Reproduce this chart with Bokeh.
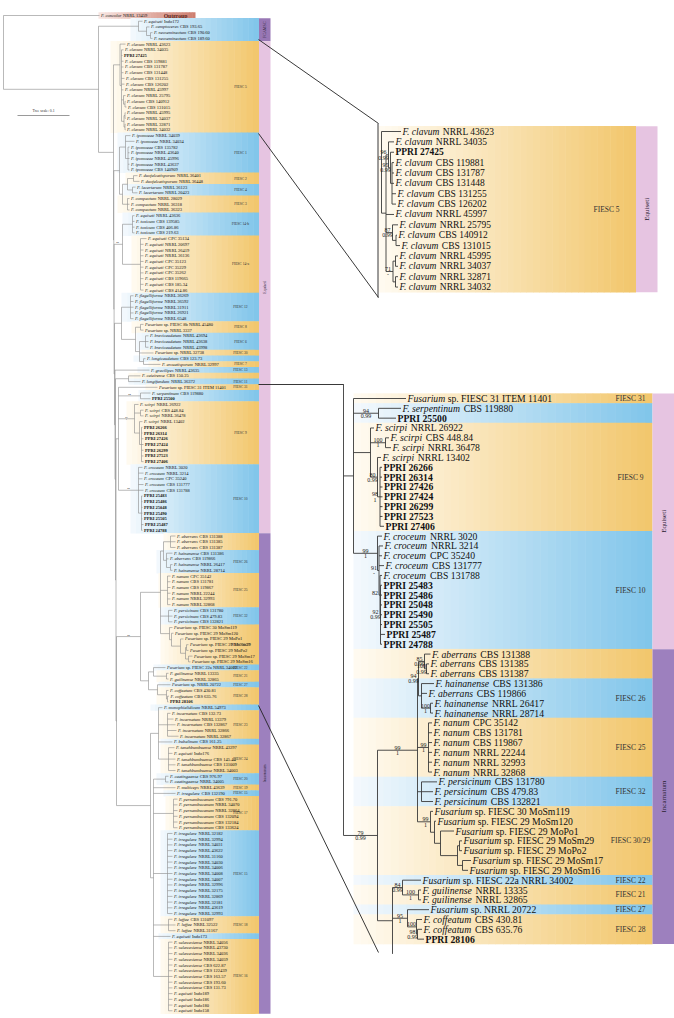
import math
from bokeh.plotting import figure
from bokeh.models import Range1d
from bokeh.core.properties import value
from bokeh.embed import file_html
from bokeh.resources import INLINE

FONT = "Liberation Serif"

# ------------------------------------------------------------------ data
TAXA = [
    "F. concolor NRRL 13459",
    "F. equiseti Indo172", "F. camptoceras CBS 193.65", "F. neoseminectum CBS 190.60", "F. neoseminectum CBS 189.60",
    "F. clavum NRRL 43623", "F. clavum NRRL 34035", "PPRI 27425", "F. clavum CBS 119881", "F. clavum CBS 131787",
    "F. clavum CBS 131448", "F. clavum CBS 131255", "F. clavum CBS 126202", "F. clavum NRRL 45997", "F. clavum NRRL 25795",
    "F. clavum CBS 140912", "F. clavum CBS 131015", "F. clavum NRRL 45995", "F. clavum NRRL 34037", "F. clavum NRRL 32871",
    "F. clavum NRRL 34032",
    "F. ipomoeae NRRL 34039", "F. ipomoeae NRRL 34034", "F. ipomoeae CBS 135782", "F. ipomoeae NRRL 43640",
    "F. ipomoeae NRRL 45996", "F. ipomoeae NRRL 43637", "F. ipomoeae CBS 140909",
    "F. duofalcatisporum NRRL 36401", "F. duofalcatisporum NRRL 36448",
    "F. lacertarum NRRL 36123", "F. lacertarum NRRL 20423",
    "F. compactum NRRL 28029", "F. compactum NRRL 36318", "F. compactum NRRL 36323",
    "F. equiseti NRRL 43636", "F. toxicum CBS 139585", "F. toxicum CBS 406.86", "F. toxicum CBS 219.63",
    "F. equiseti CPC 35134", "F. equiseti NRRL 20697", "F. equiseti NRRL 26419", "F. equiseti NRRL 36136",
    "F. equiseti CPC 35123", "F. equiseti CPC 35229", "F. equiseti CPC 35262", "F. equiseti CBS 119665",
    "F. equiseti CBS 185.34", "F. equiseti CBS 414.86",
    "F. flagelliforme NRRL 36269", "F. flagelliforme NRRL 36592", "F. flagelliforme NRRL 31911",
    "F. flagelliforme NRRL 26921", "F. flagelliforme NRRL 6548",
    "Fusarium sp. FIESC 8b NRRL 45480", "Fusarium sp. NRRL 3337",
    "F. brevicaudatum NRRL 43694", "F. brevicaudatum NRRL 43638", "F. brevicaudatum NRRL 43998",
    "Fusarium sp. NRRL 32738", "F. longicaudatum CBS 123.73", "F. arcuatisporum NRRL 32997",
    "F. gracilipes NRRL 43635", "F. caieirense CBS 150.25", "F. longifundum NRRL 36372",
    "Fusarium sp. FIESC 31 ITEM 11401", "F. serpentinum CBS 119880", "PPRI 25500",
    "F. scirpi NRRL 26922", "F. scirpi CBS 448.84", "F. scirpi NRRL 36478", "F. scirpi NRRL 13402",
    "PPRI 26266", "PPRI 26314", "PPRI 27426", "PPRI 27424", "PPRI 26299", "PPRI 27523", "PPRI 27406",
    "F. croceum NRRL 3020", "F. croceum NRRL 3214", "F. croceum CPC 35240", "F. croceum CBS 131777",
    "F. croceum CBS 131788", "PPRI 25483", "PPRI 25486", "PPRI 25048", "PPRI 25490", "PPRI 25505",
    "PPRI 25487", "PPRI 24788",
    "F. aberrans CBS 131388", "F. aberrans CBS 131385", "F. aberrans CBS 131387",
    "F. hainanense CBS 131386", "F. aberrans CBS 119866", "F. hainanense NRRL 26417", "F. hainanense NRRL 28714",
    "F. nanum CPC 35142", "F. nanum CBS 131781", "F. nanum CBS 119867", "F. nanum NRRL 22244",
    "F. nanum NRRL 32993", "F. nanum NRRL 32868",
    "F. persicinum CBS 131780", "F. persicinum CBS 479.83", "F. persicinum CBS 132821",
    "Fusarium sp. FIESC 30 MoSm119", "Fusarium sp. FIESC 29 MoSm120", "Fusarium sp. FIESC 29 MoPo1",
    "Fusarium sp. FIESC 29 MoSm29", "Fusarium sp. FIESC 29 MoPo2", "Fusarium sp. FIESC 29 MoSm17",
    "Fusarium sp. FIESC 29 MoSm16",
    "Fusarium sp. FIESC 22a NRRL 34002", "F. guilinense NRRL 13335", "F. guilinense NRRL 32865",
    "Fusarium sp. NRRL 20722", "F. coffeatum CBS 430.81", "F. coffeatum CBS 635.76", "PPRI 28106",
    "F. monophialidicum NRRL 54973",
    "F. incarnatum CBS 132.73", "F. incarnatum NRRL 13379", "F. incarnatum CBS 132867",
    "F. incarnatum NRRL 32866", "F. incarnatum NRRL 32867",
    "F. bubalinum CBS 161.25",
    "F. tanahbumbuense NRRL 43297", "F. equiseti Indo176", "F. tanahbumbuense CBS 145.44",
    "F. tanahbumbuense CBS 131009", "F. tanahbumbuense NRRL 34003",
    "F. caatingaense CBS 976.97", "F. caatingaense NRRL 34005",
    "F. multiceps NRRL 43639", "F. irregulare CBS 132190",
    "F. pernambucanum CBS 791.70", "F. pernambucanum NRRL 34070", "F. pernambucanum NRRL 32864",
    "F. pernambucanum CBS 132094", "F. pernambucanum CBS 132184", "F. pernambucanum CBS 133624",
    "F. irregulare NRRL 32182", "F. irregulare NRRL 32994", "F. irregulare NRRL 34031", "F. irregulare NRRL 43622",
    "F. irregulare NRRL 31160", "F. irregulare NRRL 34030", "F. irregulare NRRL 34006", "F. irregulare NRRL 34008",
    "F. irregulare NRRL 34007", "F. irregulare NRRL 32996", "F. irregulare NRRL 32175", "F. irregulare NRRL 32869",
    "F. irregulare NRRL 32181", "F. irregulare NRRL 43619", "F. irregulare NRRL 32993",
    "F. luffae CBS 131097", "F. luffae NRRL 32522", "F. luffae NRRL 31167",
    "F. equiseti Indo173",
    "F. sulawesiense NRRL 34056", "F. sulawesiense NRRL 43730", "F. sulawesiense NRRL 34036",
    "F. sulawesiense NRRL 34059", "F. sulawesiense CBS 622.87", "F. sulawesiense CBS 122439",
    "F. sulawesiense CBS 163.57", "F. sulawesiense CBS 193.60", "F. sulawesiense CBS 131.73",
    "F. equiseti Indo189", "F. equiseti Indo186", "F. equiseti Indo180", "F. equiseti Indo158",
]

# clade bands (row ranges into TAXA), alternating orange / blue
BAND_FIRST = [1, 5, 21, 28, 30, 32, 35, 39, 49, 54, 56, 59, 60, 61, 62, 63, 64, 65, 66, 68, 79,
              91, 94, 98, 104, 107, 114, 115, 117, 118, 121, 122, 127, 128, 133, 135, 136, 137, 143, 158, 161, 162]
BAND_LAST = [4, 20, 27, 29, 31, 34, 38, 48, 53, 55, 58, 59, 60, 61, 62, 63, 64, 65, 67, 78, 90,
             93, 97, 103, 106, 113, 114, 116, 117, 120, 121, 126, 127, 132, 134, 135, 136, 142, 157, 160, 161, 174]
BAND_COLOR = ["b", "o"] * 21
BAND_LABEL = ["", "FIESC 5", "FIESC 1", "FIESC 2", "FIESC 4", "FIESC 3", "FIESC 14-b", "FIESC 14-a",
              "FIESC 12", "FIESC 8", "FIESC 6", "FIESC 30", "", "FIESC 7", "FIESC 13", "", "FIESC 11",
              "FIESC 31", "", "FIESC 9", "FIESC 10", "", "FIESC 26", "FIESC 25", "FIESC 32", "FIESC 30/29",
              "FIESC 22", "FIESC 21", "FIESC 27", "FIESC 28", "", "FIESC 23", "", "FIESC 24", "FIESC 20",
              "FIESC 19", "FIESC 15", "FIESC 17", "FIESC 15", "FIESC 18", "", "FIESC 16"]

SECTION_FIRST = [1, 5, 91]
SECTION_LAST = [4, 90, 174]
SECTION_NAME = ["FCAMSC", "Equiseti", "Incarnatum"]
SECTION_COLOR = ["#9877b5", "#e6c4e1", "#9d80be"]

GRADIENTS = {"o": ("#fffbf2", "#f2c66b"), "b": ("#f4f9fd", "#80c5ea"), "s": ("#f8e6e2", "#cd7d6e")}

# trees: '#:d' = next taxon at depth d, '(..)[support]:d' = node, '*@r' = open line end at row r


def rep(n, d):
    return ",".join(["#:%s" % d] * n)


CAMPT = "(#:142,(#:149,(#:152,#:152):150):146):138"
CLAV = ("(#:125,(#:123,#:122,#:123,#:123,#:123,#:124,#:124,#:123,(#:125,(#:125,#:126):124.5):123,"
        "((#:125,#:125):124.5,(#:125,#:125):124.5):123.5):121):119.5")
IPO = "(#:130,#:134,(" + rep(5, 129) + "):127.5):125"
EQ1B = "(" + IPO + ",(((#:137,#:139):133,(#:135,#:137):132):127,(" + rep(3, 129) + "):127):122):119"
F14 = "((" + rep(4, 134) + "):132,(#:146," + rep(9, 143) + "):140)[99]:122"
F12 = "(" + rep(5, 133) + "):130"
F8G = "((#:143,#:143):140,((" + rep(3, 148) + "):145,#:153,(#:145,#:160):143):139):135"
SCIRPI = "(#:138,(#:143,#:143):140,(#:142,(#:142,#:142,#:143,#:143,#:143,#:143,#:143):141):139)[97/1]:134"
CROC = "(#:142,#:143,#:142,#:143,#:143,(" + rep(5, 142) + ",#:143,#:142):141)[99]:138"
SCR = "(#:157,(#:150,#:150)[94]:140," + SCIRPI + "," + CROC + "):118"
IA1 = ("(((#:175,#:175,#:175):170,(#:172,#:168,(#:172,#:172):170):166):163,(" + rep(6, 170) + "):167,"
       "(#:172,#:172,#:172):168,(#:172,(#:173,(#:183,((#:188,#:188):186,(#:192,#:190):188):185):180):171):169):160")
IA2 = "((#:165,(#:168,#:168):166):153,(#:170,(#:168,(#:168.5,#:168):167):166):157):148"
IB1 = "(#:162,(#:170,#:173,#:175,#:176,#:178):167,#:172,(#:174,#:172,#:175,#:175,#:175):168):158"
IB2 = ("((#:168,#:168):165,#:175,#:175,(" + rep(6, 177) + "):173,(" + rep(15, 172) + "):167,"
       "(#:172,#:175,#:175):168,#:170,(" + rep(13, 172) + "):168):153")
INC = "((" + IA1 + "," + IA2 + ")[99]:140,(" + IB1 + "," + IB2 + "):150):116"
X5 = "(" + SCR + "," + INC + "):115.5"
X4 = "((#:140,#:140):128," + X5 + "):115"
X3 = "(#:149," + X4 + "):114.5"
X2 = "((" + F12 + "," + F8G + "):121," + X3 + "):114"
X1 = "(" + F14 + "," + X2 + "):113.6"
Z1 = "(" + EQ1B + "," + X1 + "):113.3"
TREE_LEFT = "(#:99,(" + CAMPT + ",(" + CLAV + "," + Z1 + "):113):98):3"

TREE_CLAVUM = ("(#:400.5,((#:393.5,(#:393.5,(#:393.5,#:393.5,#:393.5,#:395.5,#:395.5):391.5)[95/0.99]:390)[96/0.99]:388,"
               "#:393.5,(#:397.5,(#:396.5,#:399.5):395.5)[87/0.99]:392,"
               "((#:397.5,#:397.5):395,(#:397.5,#:397.5):395)[71/-]:392.5):385.5):381")

E2 = ("(#:405.5,(#:400.5,#:395.5)[94/0.99]:378,"
      "(#:373.5,(#:388.5,#:390.5)[100/1]:385,(#:380.5,(#:381.5,#:381.5,#:382,#:382,#:382,#:382,#:383.5)[98/1]:379.5)[80/0.99]:377):370,"
      "(#:381.5,(#:382.5,#:381.5,#:383.5,(#:381.5,(#:381.5,#:381.5,#:381.5,#:381.5,#:381.5,#:384.5,#:381.5)[92/0.99]:380)[82]:379.5)[91/-]:378.5)[99/1]:377"
      "):353")
I1 = ("(((#:430,(#:428.5,#:428.5)[100/0.99]:426)[85/0.99]:424,(#:433.5,#:426.5,(#:432.5,#:432.5)[100/1]:430):421)[94/0.99]:418,"
      "(" + rep(6, 431.5) + ")[99/1]:428,(#:436.5,#:432.5,#:432.5):421,"
      "(#:432.5,(#:435.5,(#:453.5,((#:461.5,#:461.5):459,(#:470.5,#:467.5):462):457):440):434)[99/1]:430)[99/1]:417")
I2 = ("((#:420.5,(#:420.5,#:420.5)[100/1]:418)[84/0.99]:402,"
      "(#:428.5,(#:421.5,(#:421.5,#:423.5)[98/0.99]:417)[100]:416)[95/1]:407,*@56.5):392")
TREE_MAIN = "(*@-1.45," + E2 + ",(" + I1 + "," + I2 + ")[79/0.99]:377):343"

# zoom connectors and scale bar
CONNECT_X = [[258, 378], [258, 378], [377.5, 377.5], [258, 343], [258, 378]]
CONNECT_Y = [[39, 123], [133, 297], [123, 297], [384, 384], [705, 952]]
SCALE_LABEL = "Tree scale: 0.1"
SCALE_X = [17, 69]
SCALE_Y = 115

ITALIC_W = {' ': 250, '.': 250, 'F': 611, 'a': 500, 'b': 500, 'c': 444, 'd': 500, 'e': 444, 'f': 278,
            'g': 500, 'h': 500, 'i': 278, 'j': 278, 'k': 444, 'l': 278, 'm': 722, 'n': 500, 'o': 500,
            'p': 500, 'q': 500, 'r': 389, 's': 389, 't': 278, 'u': 500, 'v': 444, 'w': 667, 'x': 444,
            'y': 444, 'z': 389}


# ------------------------------------------------------------------ helpers
def parse_tree(s):
    st = {"pos": 0, "n": 0}

    def num():
        j = st["pos"]
        while j < len(s) and (s[j].isdigit() or s[j] in ".-"):
            j += 1
        v = float(s[st["pos"]:j])
        st["pos"] = j
        return v

    def node():
        c = s[st["pos"]]
        if c == "(":
            st["pos"] += 1
            kids = [node()]
            while s[st["pos"]] == ",":
                st["pos"] += 1
                kids.append(node())
            st["pos"] += 1
            sup = None
            if st["pos"] < len(s) and s[st["pos"]] == "[":
                j = s.index("]", st["pos"])
                sup = s[st["pos"] + 1:j]
                st["pos"] = j + 1
            st["pos"] += 1
            return {"k": "node", "kids": kids, "x": num(), "sup": sup}
        if c == "#":
            st["pos"] += 2
            i = st["n"]
            st["n"] += 1
            return {"k": "leaf", "i": i, "x": num()}
        st["pos"] += 2
        return {"k": "ghost", "row": num()}

    return node()


def layout(t, ry):
    if t["k"] == "leaf":
        t["y"] = ry(t["i"])
    elif t["k"] == "ghost":
        t["y"] = ry(t["row"])
    else:
        for k in t["kids"]:
            layout(k, ry)
        t["y"] = (t["kids"][0]["y"] + t["kids"][-1]["y"]) / 2


def collect(t, segs, leaves, sups, px):
    if t["k"] == "ghost":
        return
    if px is not None:
        segs.append((px, t["y"], t["x"], t["y"]))
    if t["k"] == "leaf":
        leaves.append((t["i"], t["x"], t["y"]))
        return
    ys = [k["y"] for k in t["kids"]]
    segs.append((t["x"], min(ys), t["x"], max(ys)))
    if t["sup"] and px is not None:
        sups.append((px, t["x"], t["y"], t["sup"]))
    for k in t["kids"]:
        collect(k, segs, leaves, sups, t["x"])


def mix(c1, c2, t):
    a = [int(c1[i:i + 2], 16) for i in (1, 3, 5)]
    b = [int(c2[i:i + 2], 16) for i in (1, 3, 5)]
    return "#%02x%02x%02x" % tuple(int(round(a[i] + (b[i] - a[i]) * t)) for i in range(3))


def txt(xs, ys, texts, size, **kw):
    opts = dict(text_font=value(FONT), text_font_size=value("%spx" % size), text_baseline="middle",
                text_align="left", text_color="#111111")
    opts.update(kw)
    p.text(x=xs, y=ys, text=texts, **opts)


# ------------------------------------------------------------------ figure
p = figure(width=674, height=1018, x_range=Range1d(0, 674), y_range=Range1d(1018, 0),
           output_backend="svg", toolbar_location=None, x_axis_type=None, y_axis_type=None,
           min_border=0)
p.xgrid.visible = False
p.ygrid.visible = False
p.outline_line_color = None
p.background_fill_color = "white"
p.border_fill_color = "white"


def draw_panel(tree_src, row0, y0, dy, fs, lc, lw, sup_fs, bx0, bx1, barx0, barx1,
               clade_x, clade_fs, sec_fs, nstrips):
    tree = parse_tree(tree_src)
    ry = lambda r: y0 + dy * r
    layout(tree, ry)
    segs, leaves, sups = [], [], []
    collect(tree, segs, leaves, sups, None)
    last = row0 + len(leaves) - 1
    leaf_x = {row0 + i: x for i, x, y in leaves}

    # bands
    L, R, T, B, C = [], [], [], [], []
    cx, cy, ct = [], [], []
    for f, l, ck, lab in zip(BAND_FIRST, BAND_LAST, BAND_COLOR, BAND_LABEL):
        if l < row0 or f > last:
            continue
        f2, l2 = max(f, row0), min(l, last)
        yt = ry(f2 - row0) - dy / 2
        yb = ry(l2 - row0) + dy / 2
        x0 = bx0 if bx0 is not None else min(leaf_x[r] for r in range(f2, l2 + 1)) - 12
        w = (bx1 - x0) / nstrips
        for k in range(nstrips):
            L.append(x0 + k * w)
            R.append(min(x0 + (k + 1) * w + 0.5, bx1))
            T.append(yt - 0.25)
            B.append(yb + 0.25)
            C.append(mix(GRADIENTS[ck][0], GRADIENTS[ck][1], (k + 0.5) / nstrips))
        if lab:
            cx.append(clade_x)
            cy.append((yt + yb) / 2)
            ct.append(lab)
    p.quad(left=L, right=R, top=T, bottom=B, fill_color=C, line_color=None)

    # section bars
    sl, sr, stp, sb, sc, sx, sy, stx = [], [], [], [], [], [], [], []
    for f, l, nm, col in zip(SECTION_FIRST, SECTION_LAST, SECTION_NAME, SECTION_COLOR):
        if l < row0 or f > last:
            continue
        f2, l2 = max(f, row0), min(l, last)
        yt = ry(f2 - row0) - dy / 2
        yb = ry(l2 - row0) + dy / 2
        sl.append(barx0); sr.append(barx1); stp.append(yt); sb.append(yb); sc.append(col)
        sx.append((barx0 + barx1) / 2); sy.append((yt + yb) / 2); stx.append(nm)
    p.quad(left=sl, right=sr, top=stp, bottom=sb, fill_color=sc, line_color=None)
    txt(sx, sy, stx, sec_fs, angle=math.pi / 2, text_align="center", text_color="#2b2233")
    txt(cx, cy, ct, clade_fs, text_align="center", text_color="#333333")

    # tree lines
    p.segment(x0=[s[0] for s in segs], y0=[s[1] for s in segs], x1=[s[2] for s in segs],
              y1=[s[3] for s in segs], line_color=lc, line_width=lw)

    # support values
    tx, ty, tt, bx_, by_, bt = [], [], [], [], [], []
    for px_, nx, y, sup in sups:
        top, bot = (sup.split("/") + [""])[:2]
        xl = (px_ + nx) / 2 if nx - px_ > 14 else nx - 5
        tx.append(xl); ty.append(y - 0.5); tt.append(top)
        bx_.append(xl); by_.append(y + 0.7); bt.append(bot)
    txt(tx, ty, tt, sup_fs, text_align="center", text_baseline="bottom", text_color="#222222")
    txt(bx_, by_, bt, sup_fs, text_align="center", text_baseline="top", text_color="#222222")

    # taxon labels: italic binomial + roman strain, PPRI isolates bold
    ix, iy, it, rx, rry, rt, bx2, by2, bt2 = [], [], [], [], [], [], [], [], []
    for i, x, y in leaves:
        name = TAXA[row0 + i]
        xl = x + 1.5
        if name.startswith("PPRI"):
            bx2.append(xl); by2.append(y); bt2.append(name)
            continue
        if name.startswith("Fusarium "):
            a, b = "Fusarium", name[9:]
        else:
            parts = name.split(" ")
            a, b = " ".join(parts[:2]), " ".join(parts[2:])
        ix.append(xl); iy.append(y); it.append(a)
        wa = sum(ITALIC_W.get(ch, 500) for ch in a) / 1000.0
        rx.append(xl + (wa + 0.25) * fs); rry.append(y); rt.append(b)
    txt(ix, iy, it, fs, text_font_style="italic")
    txt(rx, rry, rt, fs)
    txt(bx2, by2, bt2, fs, text_font_style="bold")
    return leaves


# outgroup band (left tree, row 0)
OUT_ROW_Y = 15
OL, OR_, OC = [], [], []
for k in range(30):
    OL.append(98 + k * 97 / 30.0)
    OR_.append(min(98 + (k + 1) * 97 / 30.0 + 0.5, 195))
    OC.append(mix(GRADIENTS["s"][0], GRADIENTS["s"][1], (k + 0.5) / 30))
p.quad(left=OL, right=OR_, top=[OUT_ROW_Y - 3.2] * 30, bottom=[OUT_ROW_Y + 3.2] * 30, fill_color=OC, line_color=None)
txt([175], [OUT_ROW_Y], ["Outgroup"], 5.6, text_align="center", text_font_style="bold", text_color="#5a2418")

# left: whole tree
draw_panel(TREE_LEFT, 0, 15, 5.72, 4.5, "#8a8a8a", 0.6, 2.6, None, 258.5, 258.5, 270,
           240, 3.6, 4.0, 24)
# inset: FIESC 5
draw_panel(TREE_CLAVUM, 5, 131, 10.37, 9.5, "#3a3a3a", 0.9, 6.0, 378, 635.5, 635.5, 657,
           606, 7.5, 7.0, 40)
# inset: FIESC 31 .. FIESC 28
draw_panel(TREE_MAIN, 65, 398, 9.83, 9.7, "#3a3a3a", 0.9, 6.0, 353, 652, 652, 674,
           630, 7.5, 7.0, 40)

# zoom connectors
p.multi_line(xs=CONNECT_X, ys=CONNECT_Y, line_color="#222222", line_width=0.9)

# scale bar
p.segment(x0=[SCALE_X[0]], y0=[SCALE_Y], x1=[SCALE_X[1]], y1=[SCALE_Y], line_color="#555555", line_width=0.6)
txt([(SCALE_X[0] + SCALE_X[1]) / 2], [SCALE_Y - 5], [SCALE_LABEL], 3.8, text_align="center", text_color="#333333")

open("out.html", "w").write(file_html(p, INLINE))
